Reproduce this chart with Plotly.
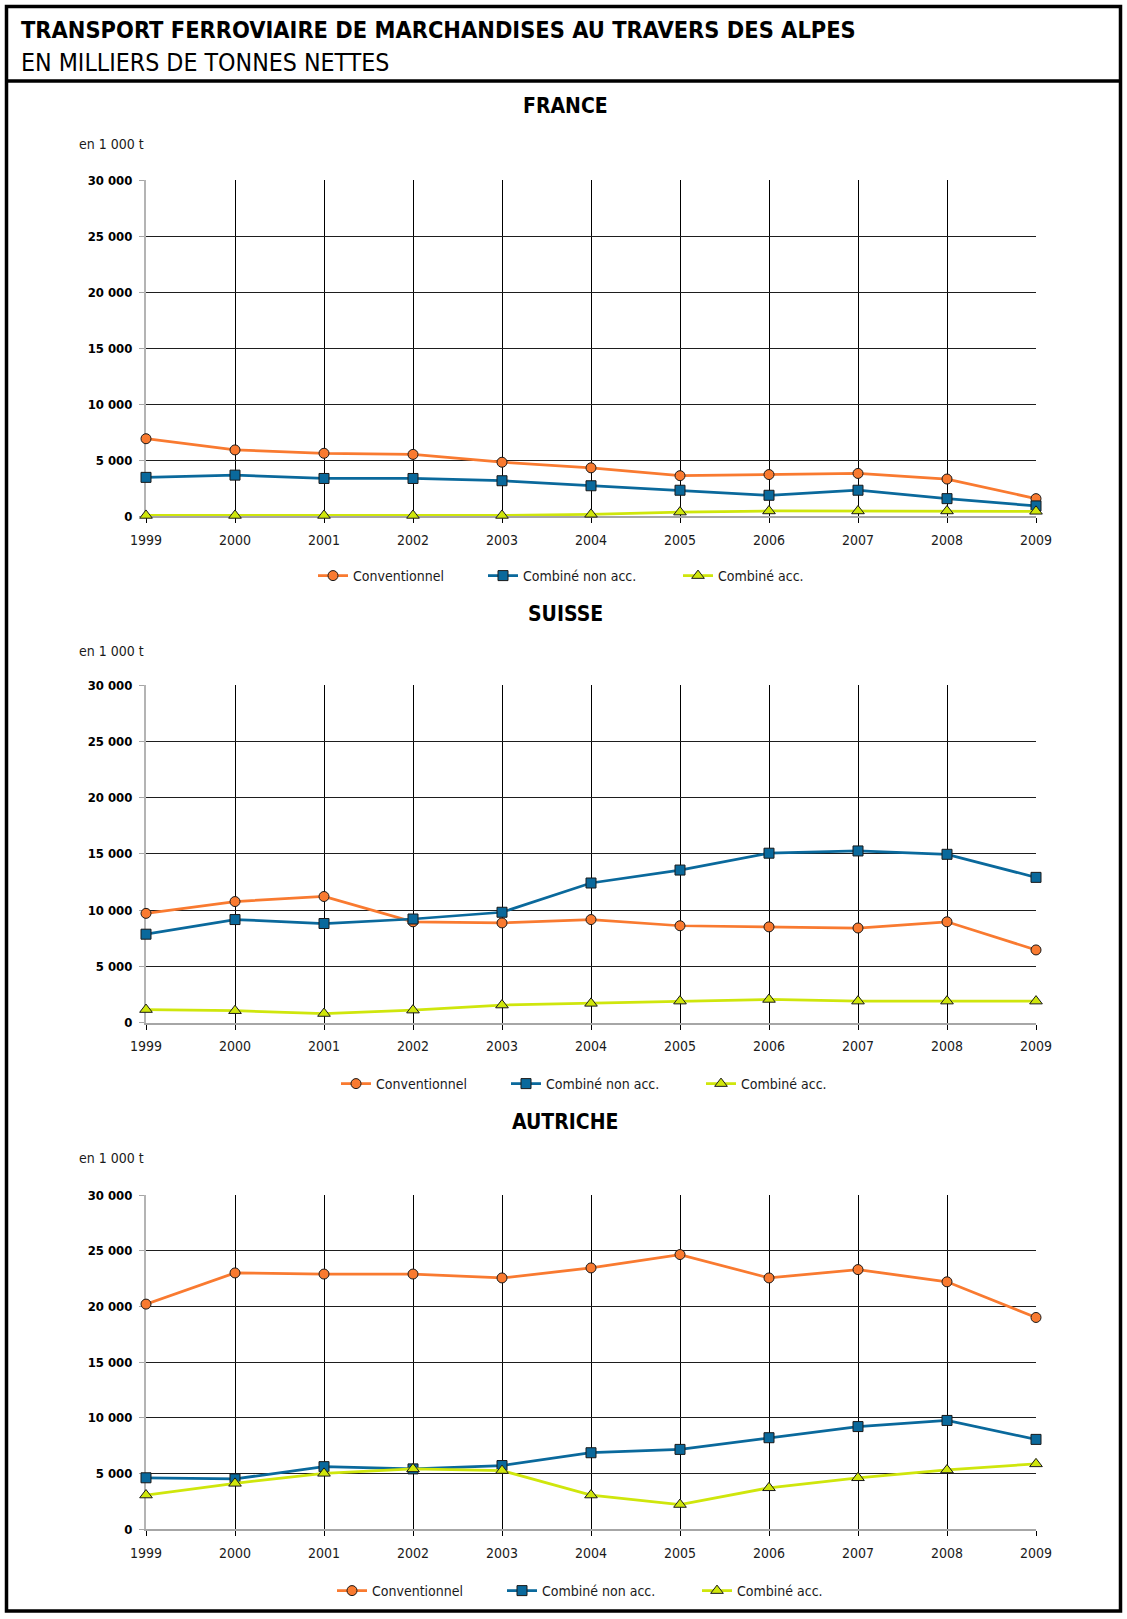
import plotly.graph_objects as go

# ---------------- data ----------------
years = [1999, 2000, 2001, 2002, 2003, 2004, 2005, 2006, 2007, 2008, 2009]
year_labels = [str(y) for y in years]
y_tick_vals = [0, 5000, 10000, 15000, 20000, 25000, 30000]
y_tick_labels = ["0", "5 000", "10 000", "15 000", "20 000", "25 000", "30 000"]
series_names = ["Conventionnel", "Combiné non acc.", "Combiné acc."]
countries = ["FRANCE", "SUISSE", "AUTRICHE"]

france_conv = [6900, 5900, 5600, 5500, 4800, 4300, 3600, 3700, 3800, 3300, 1550]
france_nonacc = [3450, 3650, 3350, 3350, 3150, 2700, 2300, 1850, 2300, 1550, 900]
france_acc = [50, 50, 50, 50, 50, 150, 350, 450, 450, 450, 420]

suisse_conv = [9700, 10750, 11200, 8950, 8850, 9150, 8600, 8500, 8400, 8950, 6450]
suisse_nonacc = [7850, 9150, 8800, 9200, 9800, 12400, 13550, 15050, 15250, 14950, 12900]
suisse_acc = [1150, 1050, 800, 1100, 1550, 1700, 1900, 2050, 1900, 1900, 1900]

autriche_conv = [20200, 23000, 22900, 22900, 22550, 23450, 24650, 22550, 23300, 22200, 19000]
autriche_nonacc = [4600, 4500, 5600, 5400, 5700, 6850, 7150, 8200, 9200, 9750, 8050]
autriche_acc = [3050, 4100, 5000, 5400, 5250, 3050, 2200, 3700, 4600, 5300, 5850]

panel_data = [
    [france_conv, france_nonacc, france_acc],
    [suisse_conv, suisse_nonacc, suisse_acc],
    [autriche_conv, autriche_nonacc, autriche_acc],
]

# ---------------- styling ----------------
W, H = 1127, 1619
FONT = "DejaVu Sans Condensed, Liberation Sans Narrow, DejaVu Sans, sans-serif"
colors = ["#F97A30", "#0A699C", "#CFE60C"]
symbols = ["circle", "square", "triangle-up"]
msizes = [10, 10, 11]
legend_widths = [125, 150, 90]

# panel pixel geometry: (plot top, plot bottom, title y, unit y, legend y, legend x)
panels_px = [
    (180, 516, 106, 144, 576, 313),
    (685, 1022.5, 614, 651, 1084, 336),
    (1195, 1529, 1122, 1158, 1591, 332),
]
x_left, x_right = 146, 1036


def fx(px):
    return px / W


def fy(py):
    return 1 - py / H


fig = go.Figure()
annotations = []
layout_axes = {}
legend_names = ["legend", "legend2", "legend3"]

for i, (country, data, geo) in enumerate(zip(countries, panel_data, panels_px)):
    top, bot, ty, uy, ly, lx = geo
    ax = "" if i == 0 else str(i + 1)
    for j, vals in enumerate(data):
        fig.add_trace(go.Scatter(
            x=years, y=vals, name=series_names[j],
            mode="lines+markers",
            line=dict(color=colors[j], width=2.75),
            marker=dict(symbol=symbols[j], size=msizes[j], color=colors[j],
                        line=dict(color="#1a1a1a", width=1)),
            cliponaxis=False,
            xaxis="x" + ax, yaxis="y" + ax,
            legend=legend_names[i],
            legendwidth=legend_widths[j],
            hoverinfo="skip",
        ))
    layout_axes["xaxis" + ax] = dict(
        domain=[fx(x_left), fx(x_right)],
        anchor="y" + ax,
        range=[1999, 2009],
        tickmode="array", tickvals=years, ticktext=year_labels,
        showgrid=True, gridcolor="#000000", gridwidth=1,
        showline=True, linecolor="#a6a6a6", linewidth=2,
        ticks="outside", ticklen=5, tickcolor="#000000", tickwidth=1,
        ticklabelstandoff=5,
        tickfont=dict(family=FONT, size=14, color="#1a1a1a"),
        zeroline=False, layer="below traces", fixedrange=True,
    )
    layout_axes["yaxis" + ax] = dict(
        domain=[fy(bot), fy(top)],
        anchor="x" + ax,
        range=[0, 30000],
        tickmode="array", tickvals=y_tick_vals, ticktext=y_tick_labels,
        showgrid=True, gridcolor="#1e1e1e", gridwidth=1,
        showline=True, linecolor="#b4b4b4", linewidth=2,
        ticks="outside", ticklen=5, tickcolor="#a6a6a6", tickwidth=1,
        ticklabelstandoff=4,
        tickfont=dict(family=FONT, size=13, color="#000000", weight="bold"),
        zeroline=False, layer="below traces", fixedrange=True,
    )
    annotations.append(dict(
        text="<b>" + country + "</b>", x=fx(565), y=fy(ty), xref="paper", yref="paper",
        xanchor="center", yanchor="middle", showarrow=False,
        font=dict(family=FONT, size=21, color="#000000"),
    ))
    annotations.append(dict(
        text="en 1 000 t", x=fx(77), y=fy(uy), xref="paper", yref="paper",
        xanchor="left", yanchor="middle", showarrow=False,
        font=dict(family=FONT, size=14, color="#1a1a1a"),
    ))
    layout_axes[legend_names[i]] = dict(
        orientation="h", x=fx(lx), y=fy(ly), xanchor="left", yanchor="middle",
        font=dict(family=FONT, size=14, color="#1a1a1a"),
        bgcolor="rgba(0,0,0,0)", borderwidth=0, traceorder="normal",
        itemclick=False, itemdoubleclick=False,
    )

annotations.append(dict(
    text="<b>TRANSPORT FERROVIAIRE DE MARCHANDISES AU TRAVERS DES ALPES</b>",
    x=fx(19), y=fy(30), xref="paper", yref="paper", xanchor="left", yanchor="middle",
    showarrow=False, font=dict(family=FONT, size=23.4, color="#000000"),
))
annotations.append(dict(
    text="EN MILLIERS DE TONNES NETTES",
    x=fx(19), y=fy(62), xref="paper", yref="paper", xanchor="left", yanchor="middle",
    showarrow=False, font=dict(family=FONT, size=24.7, color="#000000"),
))

shapes = [
    dict(type="rect", xref="paper", yref="paper", x0=fx(6.5), x1=fx(1120.5), y0=fy(6.5), y1=fy(1611),
         line=dict(color="#000000", width=3.5)),
    dict(type="line", xref="paper", yref="paper", x0=fx(6.5), x1=fx(1120.5), y0=fy(81), y1=fy(81),
         line=dict(color="#000000", width=3.5)),
]

fig.update_layout(
    width=W, height=H,
    margin=dict(l=0, r=0, t=0, b=0, autoexpand=False),
    paper_bgcolor="#ffffff", plot_bgcolor="#ffffff",
    font=dict(family=FONT, color="#000000"),
    annotations=annotations, shapes=shapes,
    showlegend=True,
    **layout_axes,
)

fig.write_html(
    "out.html",
    config={"displayModeBar": False},
    post_script="document.body.style.margin='0';document.documentElement.style.overflow='hidden';",
)
